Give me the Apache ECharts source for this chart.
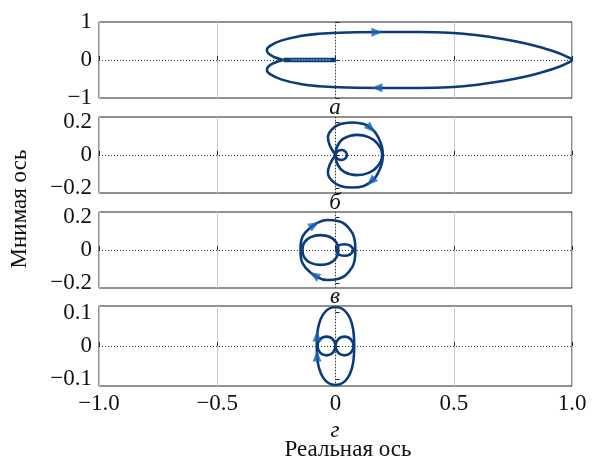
<!DOCTYPE html>
<html>
<head>
<meta charset="utf-8">
<script src="https://cdn.jsdelivr.net/npm/echarts@6/dist/echarts.min.js"></script>
<style>
  html, body { margin: 0; padding: 0; background: #fff; }
  #chart { width: 592px; height: 461px; }
</style>
</head>
<body>
<div id="chart"></div>
<script>
// ---- axes ----
const xTicks = [-1, -0.5, 0, 0.5, 1];
const xTickLabels = ['\u22121.0', '\u22120.5', '0', '0.5', '1.0'];
const panelLabels = ['а', 'б', 'в', 'г'];
const yRanges = [[-1, 1], [-0.23, 0.23], [-0.23, 0.23], [-0.12, 0.12]];
const yTicks = [[-1, 0, 1], [-0.2, 0, 0.2], [-0.2, 0, 0.2], [-0.1, 0, 0.1]];
const yTickLabels = [
  ['\u22121', '0', '1'],
  ['\u22120.2', '0', '0.2'],
  ['\u22120.2', '0', '0.2'],
  ['\u22120.1', '0', '0.1']
];

// ---- panel а: hodograph ----
const curveA = [
  [-0.22, 0], [-0.26, -0.08], [-0.285, -0.18], [-0.29, -0.27], [-0.275, -0.38], [-0.23, -0.51],
  [-0.15, -0.63], [-0.07, -0.69], [0.05, -0.725], [0.2, -0.735], [0.35, -0.735], [0.5, -0.71],
  [0.6, -0.65], [0.7, -0.56], [0.8, -0.44], [0.88, -0.31], [0.94, -0.19], [0.98, -0.08], [1.0, 0],
  [0.98, 0.08], [0.94, 0.19], [0.88, 0.31], [0.8, 0.44], [0.7, 0.56], [0.6, 0.65], [0.5, 0.71],
  [0.35, 0.735], [0.2, 0.735], [0.05, 0.725], [-0.07, 0.69], [-0.15, 0.63], [-0.23, 0.51],
  [-0.275, 0.38], [-0.29, 0.27], [-0.285, 0.18], [-0.26, 0.08], [-0.22, 0]
];
const tailA = [[-0.22, 0], [0, 0]];
const tailCoreA = [[-0.19, 0], [-0.02, 0]];
const arrowsA = [[0.175, 0.73], [0.175, -0.73]];
const arrowDirA = [-90, 90];

// ---- panel б ----
const outerB = [
  [0, 0], [-0.024, 0.057], [-0.032, 0.107], [-0.014, 0.157], [0.021, 0.187], [0.07, 0.197],
  [0.12, 0.187], [0.16, 0.15], [0.183, 0.1], [0.197, 0.046], [0.2, 0], [0.197, -0.046],
  [0.183, -0.1], [0.16, -0.15], [0.12, -0.187], [0.07, -0.197], [0.021, -0.187],
  [-0.014, -0.157], [-0.032, -0.107], [-0.024, -0.057], [0, 0]
];
const innerB = [
  [0, 0], [0.008, 0.055], [0.035, 0.1], [0.09, 0.122], [0.14, 0.108], [0.178, 0.068], [0.197, 0],
  [0.178, -0.068], [0.14, -0.108], [0.09, -0.122], [0.035, -0.1], [0.008, -0.055], [0, 0]
];
const loopB = [
  [0, 0], [0.01, 0.024], [0.028, 0.03], [0.044, 0.018], [0.048, 0], [0.044, -0.018],
  [0.028, -0.03], [0.01, -0.024], [0, 0]
];
const arrowsB = [[0.15, 0.16], [0.15, -0.16]];
const arrowDirB = [-133, 133];

// ---- panel в ----
const outerV = [
  [0.084, 0], [0.08, 0.07], [0.058, 0.13], [0.014, 0.174], [-0.035, 0.182], [-0.084, 0.158],
  [-0.125, 0.11], [-0.145, 0.057], [-0.148, 0], [-0.145, -0.057], [-0.125, -0.11],
  [-0.084, -0.158], [-0.035, -0.182], [0.014, -0.174], [0.058, -0.13], [0.08, -0.07], [0.084, 0]
];
const innerV = [
  [0.012, 0], [0.004, 0.045], [-0.025, 0.08], [-0.065, 0.09], [-0.105, 0.078], [-0.132, 0.045],
  [-0.14, 0], [-0.132, -0.045], [-0.105, -0.078], [-0.065, -0.09], [-0.025, -0.08],
  [0.004, -0.045], [0.012, 0]
];
const loopV = [
  [0.004, 0], [0.012, 0.026], [0.037, 0.035], [0.062, 0.026], [0.074, 0], [0.062, -0.026],
  [0.037, -0.035], [0.012, -0.026], [0.004, 0]
];
const arrowsV = [[-0.09, 0.152], [-0.09, -0.152]];
const arrowDirV = [-60, 60];

// ---- panel г ----
const outerG = [
  [0, 0.117], [0.03, 0.111], [0.053, 0.094], [0.069, 0.068], [0.077, 0.036], [0.079, 0],
  [0.077, -0.036], [0.069, -0.068], [0.053, -0.094], [0.03, -0.111], [0, -0.117],
  [-0.03, -0.111], [-0.053, -0.094], [-0.069, -0.068], [-0.077, -0.036], [-0.079, 0],
  [-0.077, 0.036], [-0.069, 0.068], [-0.053, 0.094], [-0.03, 0.111], [0, 0.117]
];
const leftCircleG = [
  [0, 0], [-0.011, 0.02], [-0.038, 0.028], [-0.065, 0.02], [-0.076, 0], [-0.065, -0.02],
  [-0.038, -0.028], [-0.011, -0.02], [0, 0]
];
const rightCircleG = [
  [0, 0], [0.011, 0.02], [0.038, 0.028], [0.065, 0.02], [0.076, 0], [0.065, -0.02],
  [0.038, -0.028], [0.011, -0.02], [0, 0]
];
const arrowsG = [[-0.078, 0.03], [-0.078, -0.03]];
const arrowDirG = [0, 0];

// ---- styling ----
const LINE = '#0b3b7b';
const ARROW = '#1863b3';
const FONT = '"Liberation Serif", "Times New Roman", serif';
const FS = 23;
const gridTops = [22, 117, 212, 306];
const gridHeights = [76, 76, 76, 80];

const panels = [
  { curves: [curveA], arrows: arrowsA, dirs: arrowDirA },
  { curves: [outerB, innerB, loopB], arrows: arrowsB, dirs: arrowDirB },
  { curves: [outerV, innerV, loopV], arrows: arrowsV, dirs: arrowDirV },
  { curves: [outerG, leftCircleG, rightCircleG], arrows: arrowsG, dirs: arrowDirG }
];

function labelFor(ticks, labels) {
  return v => {
    const i = ticks.findIndex(t => Math.abs(t - v) < 1e-9);
    return i >= 0 ? labels[i] : '';
  };
}

const grid = [], xAxis = [], yAxis = [], series = [];
panels.forEach((p, i) => {
  grid.push({
    left: 99, width: 473, top: gridTops[i], height: gridHeights[i],
    show: true, borderColor: '#222', borderWidth: 1, backgroundColor: '#fff'
  });
  xAxis.push({
    type: 'value', gridIndex: i, min: -1, max: 1, interval: 0.5,
    axisLine: { show: false },
    axisTick: { show: true, inside: true, length: 4, lineStyle: { color: '#222' } },
    splitLine: { show: true, lineStyle: { color: '#c9c9c9', width: 1 } },
    axisLabel: {
      show: i === panels.length - 1, margin: 6,
      fontFamily: FONT, fontSize: FS, color: '#111',
      formatter: labelFor(xTicks, xTickLabels)
    }
  });
  yAxis.push({
    type: 'value', gridIndex: i, min: yRanges[i][0], max: yRanges[i][1],
    axisLine: { show: false },
    splitLine: { show: false },
    axisTick: { show: true, inside: true, length: 4, customValues: yTicks[i], lineStyle: { color: '#222' } },
    axisLabel: {
      show: true, margin: 7, customValues: yTicks[i],
      fontFamily: FONT, fontSize: FS, color: '#111',
      formatter: labelFor(yTicks[i], yTickLabels[i])
    }
  });
  // dotted axes through the origin
  series.push({
    type: 'line', xAxisIndex: i, yAxisIndex: i, data: [], silent: true,
    markLine: {
      silent: true, symbol: 'none', label: { show: false },
      lineStyle: { color: '#333', width: 1, type: [1, 2] },
      data: [{ xAxis: 0 }, { yAxis: 0 }]
    }
  });
  p.curves.forEach(c => {
    series.push({
      type: 'line', xAxisIndex: i, yAxisIndex: i, data: c,
      smooth: 0.45, showSymbol: false, silent: true,
      lineStyle: { color: LINE, width: 2.6 }, z: 3
    });
  });
  series.push({
    type: 'scatter', xAxisIndex: i, yAxisIndex: i, silent: true, z: 4,
    symbol: 'triangle', symbolSize: [9, 11],
    itemStyle: { color: ARROW },
    data: p.arrows.map((a, k) => ({ value: a, symbolRotate: p.dirs[k] }))
  });
});

// high-frequency tail of the hodograph in panel а
series.push({
  type: 'line', xAxisIndex: 0, yAxisIndex: 0, data: tailA, showSymbol: false, silent: true,
  lineStyle: { color: LINE, width: 4.5 }, z: 3
});
series.push({
  type: 'line', xAxisIndex: 0, yAxisIndex: 0, data: tailCoreA, showSymbol: false, silent: true,
  lineStyle: { color: '#4f86c9', width: 1.5 }, z: 3
});

const textStyle = (t, italic) => ({
  text: t, fontFamily: FONT, fontSize: FS,
  fontStyle: italic ? 'italic' : 'normal', fill: '#111',
  align: 'center', verticalAlign: 'middle'
});
const labelYs = [108, 203, 297, 431];
const graphic = panelLabels.map((t, i) => ({
  type: 'text', x: 335, y: labelYs[i], style: textStyle(t, true), silent: true
}));
graphic.push({ type: 'text', x: 348, y: 450, style: textStyle('Реальная ось', false), silent: true });
graphic.push({ type: 'text', x: 20, y: 209, rotation: Math.PI / 2, style: textStyle('Мнимая ось', false), silent: true });

const chart = echarts.init(document.getElementById('chart'), null, { renderer: 'canvas' });
chart.setOption({
  animation: false,
  backgroundColor: '#fff',
  grid, xAxis, yAxis, series, graphic
});
</script>
</body>
</html>
